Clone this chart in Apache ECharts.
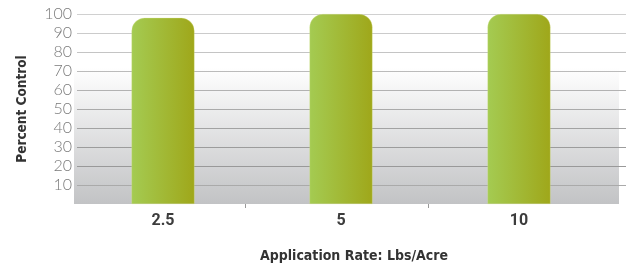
<!DOCTYPE html>
<html>
<head>
<meta charset="utf-8">
<script src="https://cdn.jsdelivr.net/npm/echarts@6/dist/echarts.min.js"></script>
<style>
  html, body { margin: 0; padding: 0; background: #fff; }
  #chart { width: 626px; height: 267px; }
</style>
</head>
<body>
<div id="chart"></div>
<script>
// data
const rates = ['2.5', '5', '10']
const control = [98, 100, 100]
const yTicks = [0, 10, 20, 30, 40, 50, 60, 70, 80, 90, 100]

// gridline colours, bottom to top
const lineColors = ['#aaa', '#999', '#9c9c9c', '#a2a2a2', '#aaaaaa', '#b2b2b2', '#bbbbbb', '#c4c4c4', '#cbcbcb', '#d0d0d0', '#d3d3d3']

const chart = echarts.init(document.getElementById('chart'))

const condensed = '"Liberation Sans Narrow", "DejaVu Sans Condensed", sans-serif'

const option = {
  backgroundColor: '#fff',
  animation: false,
  grid: [
    // background panel
    {
      left: 74, right: 7, top: 14, bottom: 63, show: true, borderWidth: 0,
      backgroundColor: {
        type: 'linear', x: 0, y: 0, x2: 0, y2: 1,
        colorStops: [
          { offset: 0, color: '#ffffff' },
          { offset: 0.28, color: '#ffffff' },
          { offset: 1, color: '#c2c3c5' }
        ]
      }
    },
    // gridlines + y labels
    { left: 77, right: 0, top: 14, bottom: 63 },
    // bars
    { left: 74, width: 534, top: 14, bottom: 63 }
  ],
  xAxis: [
    { gridIndex: 0, type: 'value', show: false },
    { gridIndex: 1, type: 'value', show: false },
    {
      gridIndex: 2,
      type: 'category',
      data: rates,
      axisLine: { show: false },
      axisTick: { show: false },
      axisLabel: {
        margin: 9,
        fontFamily: 'Roboto, sans-serif',
        fontWeight: 'bold',
        fontSize: 16,
        color: '#3c3c3c'
      }
    },
    {
      gridIndex: 2,
      type: 'value',
      position: 'bottom',
      min: 0,
      max: 3,
      axisLine: { show: false },
      axisLabel: { show: false },
      splitLine: { show: false },
      axisTick: {
        show: true,
        customValues: [0.96, 1.99],
        length: 4,
        lineStyle: { color: '#999' }
      }
    }
  ],
  yAxis: [
    { gridIndex: 0, type: 'value', show: false, min: 0, max: 100 },
    {
      gridIndex: 1,
      type: 'value',
      min: 0,
      max: 100,
      interval: 10,
      axisLine: { show: false },
      axisTick: { show: false },
      axisLabel: {
        margin: 5,
        fontFamily: 'Lato, Roboto, sans-serif',
        fontWeight: 300,
        fontSize: 16,
        color: '#7a7a7a',
        formatter: v => (v === 0 ? '' : v)
      },
      splitLine: {
        show: true,
        showMinLine: false,
        lineStyle: { color: lineColors, width: 1 }
      },
      name: 'Percent Control',
      nameLocation: 'middle',
      nameGap: 48,
      nameRotate: 90,
      nameTextStyle: {
        fontFamily: condensed,
        fontWeight: 'bold',
        fontSize: 13.5,
        color: '#333'
      }
    },
    { gridIndex: 2, type: 'value', show: false, min: 0, max: 100 }
  ],
  series: [
    {
      type: 'bar',
      xAxisIndex: 2,
      yAxisIndex: 2,
      data: control,
      barWidth: 63,
      itemStyle: {
        borderRadius: [13, 13, 0, 0],
        borderColor: 'rgba(220,230,150,0.6)',
        borderWidth: 0.5,
        color: {
          type: 'linear', x: 0, y: 0, x2: 1, y2: 0,
          colorStops: [
            { offset: 0, color: '#a4cb52' },
            { offset: 1, color: '#9fa71a' }
          ]
        }
      }
    }
  ],
  graphic: [
    {
      type: 'text',
      x: 354,
      y: 256,
      style: {
        text: 'Application Rate: Lbs/Acre',
        align: 'center',
        verticalAlign: 'middle',
        fontFamily: condensed,
        fontWeight: 'bold',
        fontSize: 14,
        fill: '#333'
      }
    }
  ]
}

chart.setOption(option)
</script>
</body>
</html>
